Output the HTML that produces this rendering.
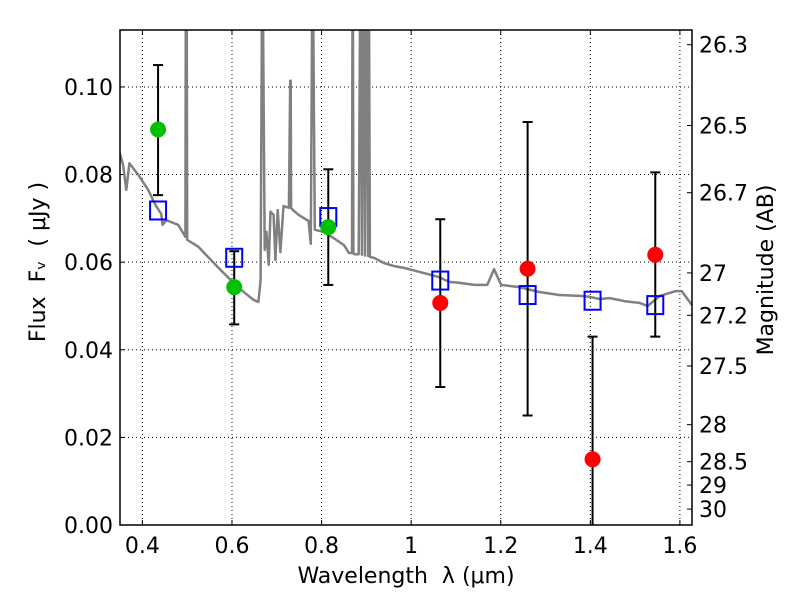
<!DOCTYPE html>
<html><head><meta charset="utf-8"><style>
body{margin:0;background:#fff;}
svg text{font-family:"DejaVu Sans","Liberation Sans",sans-serif;fill:#000;}
</style></head><body>
<svg id="c" width="800" height="600" xmlns="http://www.w3.org/2000/svg"></svg>
<script>
const modelWave=[0.346,0.357,0.364,0.371,0.391,0.413,0.429,0.442,0.445,0.453,0.480,0.496,0.497,0.498,0.499,0.500,0.525,0.570,0.615,0.648,0.659,0.664,0.667,0.668,0.669,0.673,0.677,0.682,0.686,0.693,0.697,0.702,0.708,0.715,0.727,0.730,0.731,0.732,0.736,0.749,0.771,0.776,0.779,0.780,0.781,0.785,0.805,0.827,0.850,0.861,0.868,0.869,0.870,0.871,0.874,0.883,0.886,0.888,0.890,0.893,0.895,0.897,0.899,0.901,0.904,0.906,0.908,0.917,0.939,0.962,0.984,1.018,1.062,1.085,1.107,1.141,1.170,1.185,1.201,1.241,1.286,1.331,1.376,1.398,1.421,1.443,1.477,1.510,1.528,1.555,1.591,1.604,1.627];
const modelFlux=[0.0861,0.0822,0.0765,0.0826,0.0799,0.0765,0.0731,0.0710,0.0685,0.0696,0.0685,0.0658,0.12,0.12,0.12,0.0651,0.0635,0.0587,0.0541,0.0514,0.0509,0.0559,0.12,0.12,0.12,0.0628,0.0669,0.0594,0.0715,0.0708,0.0605,0.0719,0.0623,0.0728,0.0724,0.1014,0.1014,0.0724,0.0719,0.0708,0.0694,0.0642,0.12,0.12,0.12,0.0674,0.0669,0.0655,0.0639,0.0621,0.0621,0.12,0.12,0.0620,0.0618,0.0618,0.12,0.12,0.0617,0.12,0.12,0.0615,0.12,0.12,0.0614,0.12,0.0612,0.0610,0.0598,0.0591,0.0587,0.0578,0.0566,0.0555,0.0553,0.0548,0.0548,0.0584,0.0548,0.0543,0.0532,0.0525,0.0523,0.0521,0.0516,0.0518,0.0511,0.0507,0.0500,0.0523,0.0534,0.0534,0.0502];
const photWave=[0.435,0.605,0.815,1.065,1.26,1.405,1.545];
const photFlux=[0.0903,0.0543,0.068,0.0507,0.0585,0.015,0.0617];
const errLo=[0.0753,0.0458,0.0548,0.0315,0.025,-0.01,0.043];
const errHi=[0.105,0.0625,0.0812,0.0698,0.092,0.043,0.0805];
const photColor=['#00c000','#00c000','#00c000','red','red','red','red'];
const synthFlux=[0.0718,0.061,0.0703,0.0558,0.0525,0.0512,0.0502];
const xTicks=[0.4,0.6,0.8,1.0,1.2,1.4,1.6];
const xTickLabels=['0.4','0.6','0.8','1','1.2','1.4','1.6'];
const yTicks=[0,0.02,0.04,0.06,0.08,0.10];
const yTickLabels=['0.00','0.02','0.04','0.06','0.08','0.10'];
const magTicks=[26.3,26.5,26.7,27,27.2,27.5,28,28.5,29,30];
const magLabels=['26.3','26.5','26.7','27','27.2','27.5','28','28.5','29','30'];

const L=120,R=692,T=30,B=525,X0=0.35,X1=1.627,Y0=0,Y1=0.113;
const sx=v=>L+(v-X0)/(X1-X0)*(R-L);
const sy=v=>B-(v-Y0)/(Y1-Y0)*(B-T);
const svg=document.getElementById('c');
const NS='http://www.w3.org/2000/svg';
function mk(tag,attrs,parent){const e=document.createElementNS(NS,tag);for(const k in attrs)e.setAttribute(k,attrs[k]);(parent||svg).appendChild(e);return e;}

const defs=mk('defs',{});
const cp=mk('clipPath',{id:'clip'},defs);
mk('rect',{x:L,y:T,width:R-L,height:B-T},cp);

xTicks.forEach((v,i)=>{
  const g=mk('line',{x1:sx(v),x2:sx(v),y1:T,y2:B,stroke:'#000','stroke-width':1,'stroke-dasharray':'1,3'});
  
  
  const t=mk('line',{x1:sx(v),x2:sx(v),y1:B,y2:B-5,stroke:'#000'});
  
  
  mk('line',{x1:sx(v),x2:sx(v),y1:T,y2:T+5,stroke:'#000'});
  const lb=mk('text',{x:sx(v),y:B+28,'text-anchor':'middle','font-size':22});
  lb.textContent=xTickLabels[i];
  
  
});
yTicks.forEach((v,i)=>{
  const g=mk('line',{x1:L,x2:R,y1:sy(v),y2:sy(v),stroke:'#000','stroke-width':1,'stroke-dasharray':'1,3'});
  
  
  mk('line',{x1:L,x2:L+5,y1:sy(v),y2:sy(v),stroke:'#000'});
  const lb=mk('text',{x:L-7,y:sy(v)+8,'text-anchor':'end','font-size':22});
  lb.textContent=yTickLabels[i];
  
  
});
magTicks.forEach((m,i)=>{
  const f=Math.pow(10,(23.9-m)/2.5);
  const t=mk('line',{x1:R,x2:R-5,y1:sy(f),y2:sy(f),stroke:'#000'});
  
  
  const lb=mk('text',{x:R+7,y:sy(f)+8,'font-size':22});
  lb.textContent=magLabels[i];
  
  
});

const g=mk('g',{'clip-path':'url(#clip)'});
const pts=modelWave.map((w,i)=>sx(w).toFixed(1)+','+sy(modelFlux[i]).toFixed(1)).join(' ');
const pl=mk('polyline',{points:pts,fill:'none',stroke:'#808080','stroke-width':2.5,'stroke-linejoin':'round'},g);



photWave.forEach((w,i)=>{
  const x=sx(w);
  const e=mk('line',{x1:x,x2:x,y1:sy(errLo[i]),y2:sy(errHi[i]),stroke:'#000','stroke-width':2},g);
  
  
  mk('line',{x1:x-5,x2:x+5,y1:sy(errLo[i]),y2:sy(errLo[i]),stroke:'#000','stroke-width':2},g);
  mk('line',{x1:x-5,x2:x+5,y1:sy(errHi[i]),y2:sy(errHi[i]),stroke:'#000','stroke-width':2},g);
});
photWave.forEach((w,i)=>{
  const s=mk('rect',{x:sx(w)-8,y:sy(synthFlux[i])-9,width:16,height:18,fill:'none',stroke:'#0000ff','stroke-width':2},g);
  
  
});
photWave.forEach((w,i)=>{
  const c=mk('circle',{cx:sx(w),cy:sy(photFlux[i]),r:8,fill:photColor[i]},g);
  
  
});

const fr=mk('rect',{x:L,y:T,width:R-L,height:B-T,fill:'none',stroke:'#000','stroke-width':1.5});



const xl=mk('text',{x:406,y:583,'text-anchor':'middle','font-size':22});
xl.textContent='Wavelength\u00a0\u00a0\u03bb (\u03bcm)';


const yl=mk('text',{x:0,y:0,'text-anchor':'middle','font-size':22,transform:'translate(45,262) rotate(-90)'});
yl.textContent='Flux\u00a0\u00a0F\u1d65\u00a0\u00a0(\u00a0\u03bcJy )';


const yr=mk('text',{x:0,y:0,'text-anchor':'middle','font-size':22,transform:'translate(773,270) rotate(-90)'});
yr.textContent='Magnitude (AB)';


</script>
</body></html>
